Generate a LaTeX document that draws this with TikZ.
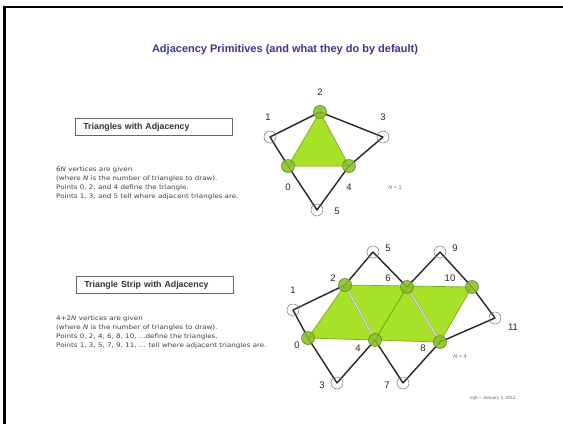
\documentclass[tikz,border=0pt]{standalone}
\usepackage{fontspec}
\setmainfont{Liberation Sans}
\newfontfamily\handfont[FakeStretch=1.15]{DejaVu Sans}
\definecolor{titleblue}{RGB}{55,55,150}
\definecolor{trifill}{RGB}{168,226,40}
\definecolor{triedge}{RGB}{120,170,30}
\definecolor{gvfill}{RGB}{135,190,35}
\definecolor{gvedge}{RGB}{95,140,25}
\tikzset{
  titletext/.style={font=\fontsize{11}{13}\selectfont\bfseries, text=titleblue},
  labelbox/.style={draw=black!60, line width=0.7pt, anchor=west, align=left, text width=141pt, inner xsep=8pt, minimum height=17pt, font=\fontsize{8.8}{10}\selectfont\bfseries, text=black!80},
  desc/.style={anchor=north west, align=left, inner sep=0pt, font=\handfont\fontsize{6.2}{9}\selectfont, text=black!75},
  vlabel/.style={font=\fontsize{9.5}{10}\selectfont, text=black!85, inner sep=0pt},
  nlabel/.style={font=\fontsize{5.5}{7}\selectfont, text=black!60, inner sep=0pt},
  wv/.style={circle, draw=black!55, line width=0.5pt, minimum size=12pt, inner sep=0pt},
  gv/.style={circle, draw=gvedge, fill=gvfill, fill opacity=0.85, line width=0.6pt, minimum size=13pt, inner sep=0pt},
  adj/.style={draw=black!85, line width=1.4pt, line join=round},
  tri/.style={fill=trifill, draw=triedge, line width=0.7pt, line join=round},
  dbl/.style={draw=black!40, double=white!90!black, double distance=1pt, line width=0.5pt},
}
\begin{document}
\begin{tikzpicture}[x=1pt,y=-1pt]
\useasboundingbox (0,0) rectangle (563,424);
\fill[white] (0,0) rectangle (563,424);
\draw[line width=2.5pt] (4.5,424) -- (4.5,7) -- (563,7);

\node[titletext] (title) at (285,50) {Adjacency Primitives (and what they do by default)};

% ---------- Triangles with adjacency ----------
\node[labelbox] (box1) at (75,127) {Triangles with Adjacency};
\node[desc] (desc1) at (56,167) {6\textit{N} vertices are given\\(where \textit{N} is the number of triangles to draw).\\Points 0, 2, and 4 define the triangle.\\Points 1, 3, and 5 tell where adjacent triangles are.};

\coordinate (p0) at (288,166);
\coordinate (p1) at (270,137);
\coordinate (p2) at (320,112);
\coordinate (p3) at (383,137);
\coordinate (p4) at (349,166);
\coordinate (p5) at (317,210);

\filldraw[tri] (p0) -- (p2) -- (p4) -- cycle;
\draw[adj] (p0) -- (p1) -- (p2) -- (p3) -- (p4) -- (p5) -- cycle;
\node[wv] (t1) at (p1) {};
\node[wv] (t3) at (p3) {};
\node[wv] (t5) at (p5) {};
\node[gv] (t0) at (p0) {};
\node[gv] (t2) at (p2) {};
\node[gv] (t4) at (p4) {};

\node[vlabel] (l2) at (320,92) {2};
\node[vlabel] (l1) at (268,117) {1};
\node[vlabel] (l3) at (383,117) {3};
\node[vlabel] (l0) at (288,187) {0};
\node[vlabel] (l4) at (349,187) {4};
\node[vlabel] (l5) at (337,211) {5};
\node[nlabel] (n1) at (395,188) {\textit{N} = 1};

% ---------- Triangle strip with adjacency ----------
\node[labelbox] (box2) at (76,285) {Triangle Strip with Adjacency};
\node[desc] (desc2) at (56,316) {4+2\textit{N} vertices are given\\(where \textit{N} is the number of triangles to draw).\\Points 0, 2, 4, 6, 8, 10, ...define the triangles.\\Points 1, 3, 5, 7, 9, 11, ... tell where adjacent triangles are.};

\coordinate (q0) at (308,338);
\coordinate (q1) at (293,310);
\coordinate (q2) at (345,285);
\coordinate (q3) at (337,383);
\coordinate (q4) at (375,340);
\coordinate (q5) at (373,252);
\coordinate (q6) at (407,287);
\coordinate (q7) at (403,383);
\coordinate (q8) at (440,342);
\coordinate (q9) at (440,252);
\coordinate (q10) at (472,287);
\coordinate (q11) at (495,318);

\filldraw[tri] (q0) -- (q2) -- (q10) -- (q8) -- cycle;
\draw[triedge, line width=1pt] (q4) -- (q6);
\draw[dbl] (q2) -- (q4);
\draw[dbl] (q6) -- (q8);
\draw[adj] (q0) -- (q1) -- (q2) -- (q5) -- (q6) -- (q9) -- (q10) -- (q11) -- (q8) -- (q7) -- (q4) -- (q3) -- cycle;

\node[wv] (s1) at (q1) {};
\node[wv] (s3) at (q3) {};
\node[wv] (s5) at (q5) {};
\node[wv] (s7) at (q7) {};
\node[wv] (s9) at (q9) {};
\node[wv] (s11) at (q11) {};
\node[gv] (s0) at (q0) {};
\node[gv] (s2) at (q2) {};
\node[gv] (s4) at (q4) {};
\node[gv] (s6) at (q6) {};
\node[gv] (s8) at (q8) {};
\node[gv] (s10) at (q10) {};

\node[vlabel] (m5) at (388,248) {5};
\node[vlabel] (m9) at (455,248) {9};
\node[vlabel] (m2) at (333,278) {2};
\node[vlabel] (m6) at (388,278) {6};
\node[vlabel] (m10) at (450,278) {10};
\node[vlabel] (m1) at (293,290) {1};
\node[vlabel] (m11) at (513,327) {11};
\node[vlabel] (m0) at (297,345) {0};
\node[vlabel] (m4) at (358,348) {4};
\node[vlabel] (m8) at (423,348) {8};
\node[vlabel] (m3) at (322,385) {3};
\node[vlabel] (m7) at (387,385) {7};
\node[nlabel] (n4) at (460,357) {\textit{N} = 4};

\node[font=\fontsize{4.6}{5}\selectfont, text=black!60, inner sep=0pt] (foot) at (493,398) {mjb -- January 3, 2012};
\end{tikzpicture}
\end{document}
